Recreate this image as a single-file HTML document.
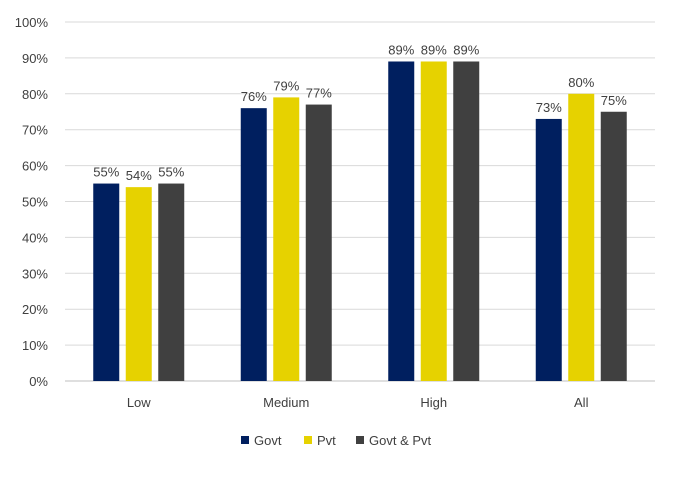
<!DOCTYPE html>
<html><head><meta charset="utf-8"><style>
body{margin:0;background:#fff;font-family:"Liberation Sans",sans-serif;}
svg text{font-family:"Liberation Sans",sans-serif;fill:#404040;}
</style></head><body>
<svg id="chart" width="677" height="472" viewBox="0 0 677 472" xmlns="http://www.w3.org/2000/svg">
<g id="grid"></g>
<g id="yaxis"></g>
<g id="xaxis"></g>
<g id="bars"></g>
<g id="legend"></g>
</svg>
<script>
const categories = ["Low","Medium","High","All"];
const seriesNames = ["Govt","Pvt","Govt & Pvt"];
const govt = [55,76,89,73];
const pvt = [54,79,89,80];
const both = [55,77,89,75];
const yTicks = [0,10,20,30,40,50,60,70,80,90,100];

const colors = ["#001f5f","#e6d200","#404040"];
const series = [govt,pvt,both];
const NS="http://www.w3.org/2000/svg";
const x0=65,x1=655,y0=381,y1=22;
const band=(x1-x0)/categories.length;
function yScale(v){return y0-(v/100)*(y0-y1);}
function xCenter(i){return x0+band*(i+0.5);}
function mk(tag,attrs,parent){const e=document.createElementNS(NS,tag);for(const k in attrs)e.setAttribute(k,attrs[k]);parent.appendChild(e);return e;}
const grid=document.getElementById('grid'),ya=document.getElementById('yaxis'),xa=document.getElementById('xaxis'),bars=document.getElementById('bars'),lg=document.getElementById('legend');
yTicks.forEach(t=>{
  const y=yScale(t);
  const l=mk('line',{x1:x0,x2:x1,y1:y,y2:y,stroke:t===0?'#bfbfbf':'#d9d9d9','stroke-width':1},grid);
  
  
  const tx=mk('text',{x:48,y:y+5,'text-anchor':'end','font-size':13},ya);
  tx.textContent=t+'%';
  
  
});
const bw=26,gap=6.5;
categories.forEach((c,i)=>{
  const cx=xCenter(i);
  const tx=mk('text',{x:cx,y:407,'text-anchor':'middle','font-size':13},xa);
  tx.textContent=c;
  
  
  series.forEach((s,j)=>{
    const bx=cx+(j-1)*(bw+gap)-bw/2;
    const y=yScale(s[i]);
    const r=mk('rect',{x:bx,y:y,width:bw,height:y0-y,fill:colors[j]},bars);
    
    
    const lb=mk('text',{x:bx+bw/2,y:y-7,'text-anchor':'middle','font-size':13},bars);
    lb.textContent=s[i]+'%';
    
    
  });
});
const lx=[241,304,356];
seriesNames.forEach((n,j)=>{
  const r=mk('rect',{x:lx[j],y:436,width:8,height:8,fill:colors[j]},lg);
  
  
  const t=mk('text',{x:lx[j]+13,y:445,'font-size':13},lg);
  t.textContent=n;
  
  
});
</script>
</body></html>
